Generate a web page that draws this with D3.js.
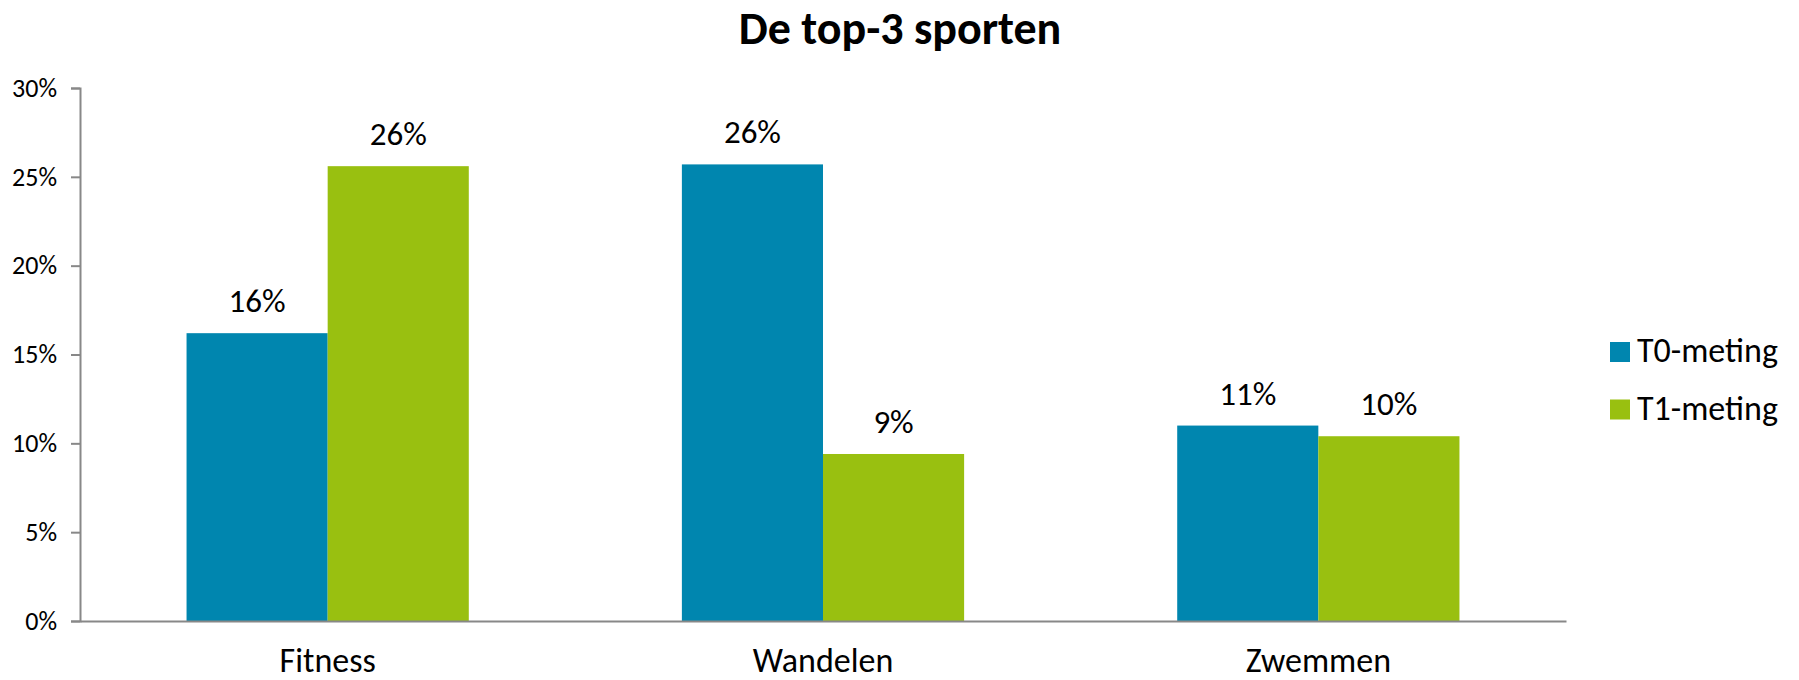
<!DOCTYPE html>
<html><head><meta charset="utf-8">
<script src="https://cdn.jsdelivr.net/npm/d3@7"></script>
<style>
html,body{margin:0;padding:0;background:#fff;}
svg{display:block;font-family:Carlito, Calibri, Lato, sans-serif;}
</style></head>
<body>
<svg id="chart" width="1799" height="680"></svg>
<script>
const title = "De top-3 sporten";
const categories = ["Fitness", "Wandelen", "Zwemmen"];
const seriesNames = ["T0-meting", "T1-meting"];
const t0Values = [0.162, 0.257, 0.110];
const t1Values = [0.256, 0.094, 0.104];
const valueLabels = [["16%", "26%"], ["26%", "9%"], ["11%", "10%"]];
const yTicks = [0, 0.05, 0.10, 0.15, 0.20, 0.25, 0.30];
const colors = ["#0086AF", "#99C010"];

const svg = d3.select("#chart");
const m = {left: 80, right: 1566, top: 88, bottom: 621};
const FONT = "Carlito, Calibri, Lato, sans-serif";

const x = d3.scaleBand().domain(categories).range([m.left, m.right]).paddingInner(0).paddingOuter(0);
const xs = d3.scaleBand().domain(seriesNames).range([0, x.bandwidth()]).paddingInner(0).paddingOuter(0.755);
const y = d3.scaleLinear().domain([0, 0.30]).range([m.bottom, m.top]);

const data = categories.map((c, i) => ({cat: c, vals: [t0Values[i], t1Values[i]], labels: valueLabels[i]}));

// bars
const g = svg.append("g");
data.forEach(d => {
  seriesNames.forEach((s, j) => {
    const bx = x(d.cat) + xs(s);
    g.append("rect")
      .attr("x", bx).attr("y", y(d.vals[j]))
      .attr("width", xs.bandwidth()).attr("height", y(0) - y(d.vals[j]))
      .attr("fill", colors[j]);
    g.append("text")
      .attr("x", bx + xs.bandwidth() / 2).attr("y", y(d.vals[j]) - 21)
      .attr("text-anchor", "middle").attr("font-size", 33).attr("fill", "#000")
      .text(d.labels[j]);
  });
});

// y axis
const yAxis = d3.axisLeft(y).tickValues(yTicks).tickFormat(d3.format(".0%")).tickSize(9).tickPadding(14);
const ya = svg.append("g").attr("transform", `translate(${m.left},0)`).call(yAxis);
ya.select(".domain").attr("stroke", "#888").attr("stroke-width", 2);
ya.selectAll(".tick line").attr("stroke", "#888").attr("stroke-width", 2);
ya.selectAll(".tick text").attr("font-size", 26).attr("fill", "#000").attr("font-family", FONT);

// x axis
const xAxis = d3.axisBottom(x).tickSize(0).tickPadding(0);
const xa = svg.append("g").attr("transform", `translate(0,${m.bottom})`).call(xAxis);
xa.select(".domain").attr("stroke", "#888").attr("stroke-width", 2);
xa.selectAll(".tick text").attr("font-size", 34).attr("fill", "#000")
  .attr("font-family", FONT)
  .attr("dy", null).attr("y", 51);

// title
svg.append("text").attr("x", 900).attr("y", 44).attr("text-anchor", "middle")
  .attr("font-size", 46).attr("font-weight", "bold").attr("fill", "#000").text(title);

// legend
const lg = svg.append("g");
seriesNames.forEach((s, j) => {
  lg.append("rect").attr("x", 1610).attr("y", 342 + j * 57.5).attr("width", 20).attr("height", 20).attr("fill", colors[j]);
  lg.append("text").attr("x", 1637).attr("y", 362 + j * 57.5).attr("font-size", 34).attr("fill", "#000").text(s);
});
</script>
</body></html>
